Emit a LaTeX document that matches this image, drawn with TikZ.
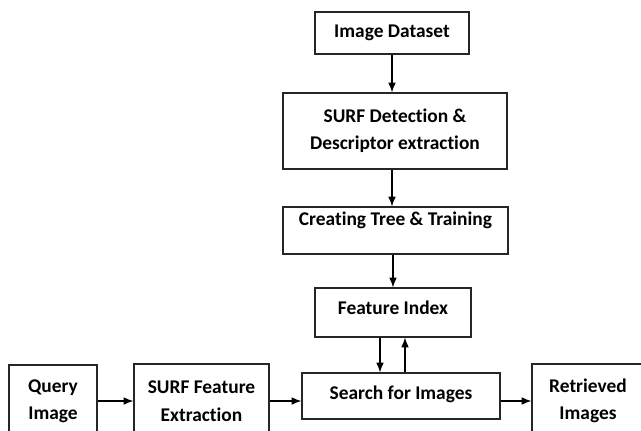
\documentclass[tikz,border=0pt]{standalone}
\usepackage{fontspec}
\setmainfont{Carlito}[Ligatures=NoCommon]
\usetikzlibrary{arrows.meta,positioning,calc}
\begin{document}
\begin{tikzpicture}[
  x=0.025cm, y=-0.025cm,
  font=\fontsize{13.8}{19.5}\selectfont\bfseries,
  >={Latex[length=7pt,width=5.5pt]},
  line width=0.8pt,
  stage/.style={rectangle, draw=black!85, inner sep=0pt, align=center, text=black},
  flow/.style={->, draw=black, line width=0.8pt}
]
\useasboundingbox (0,0) rectangle (641,430);
\clip (0,0) rectangle (641,430);

% database side
\node[stage, minimum width=3.85cm, minimum height=1.05cm] (dataset) at (392,33) {Image Dataset};
\node[stage, minimum width=5.6cm, minimum height=1.9cm] (surfdet) at (395,131) {SURF Detection \&\\Descriptor extraction};
\node[stage, minimum width=5.625cm, minimum height=1.175cm, text height=13pt, text depth=20.4pt] (tree) at (395.5,230.5) {Creating Tree \& Training};
\node[stage, minimum width=3.9cm, minimum height=1.225cm, text height=18.5pt, text depth=16.3pt] (index) at (393,312.5) {Feature Index};
\node[stage, minimum width=4.95cm, minimum height=1.15cm, text height=18.5pt, text depth=14.2pt] (search) at (401,396) {Search for Images};

% query side
\node[stage, minimum width=2.2cm, minimum height=1.825cm] (query) at (53,401.5) {Query\\Image};
\node[stage, minimum width=3.375cm, minimum height=1.85cm] (surffeat) at (201.5,401) {SURF Feature\\Extraction};
\node[stage, minimum width=2.8cm, minimum height=1.85cm] (retrieved) at (588,401) {Retrieved\\Images};

\draw[flow] (dataset.south) -- (dataset.south |- surfdet.north);
\draw[flow] (surfdet.south -| dataset.south) -- (dataset.south |- tree.north);
\draw[flow] (index.north |- tree.south) -- (index.north);
\draw[flow] ([xshift=-0.325cm]index.south) -- ([xshift=-0.325cm]index.south |- search.north);
\draw[flow] ([xshift=0.3cm]index.south |- search.north) -- ([xshift=0.3cm]index.south);

\draw[flow] (query.east |- surffeat) -- (surffeat.west);
\draw[flow] (surffeat.east) -- (surffeat.east -| search.west);
\draw[flow] (retrieved.west -| search.east) -- (retrieved.west);

\end{tikzpicture}
\end{document}
